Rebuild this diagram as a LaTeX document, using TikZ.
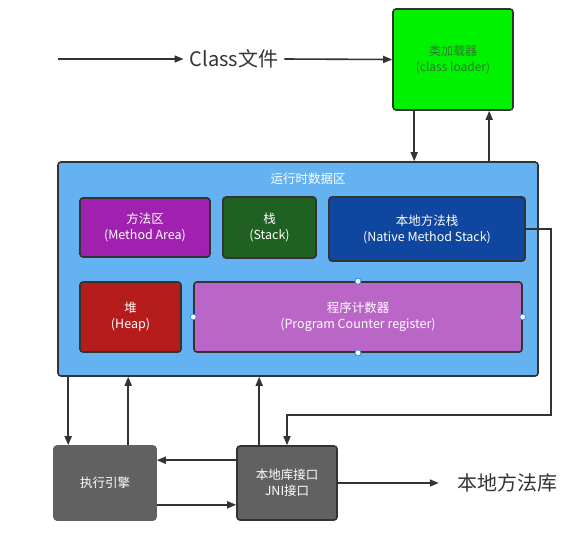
\documentclass[tikz,border=0pt]{standalone}
\usepackage{fontspec}
\setmainfont{Noto Sans CJK SC}
\usetikzlibrary{arrows.meta}
\definecolor{lc}{HTML}{333333}
\definecolor{cgreen}{HTML}{00F200}
\definecolor{cgreentxt}{HTML}{2F7A2F}
\definecolor{cblue}{HTML}{64B2F2}
\definecolor{cmethod}{HTML}{A021B0}
\definecolor{cstack}{HTML}{1E6123}
\definecolor{cnative}{HTML}{0E46A0}
\definecolor{cheap}{HTML}{B51C1C}
\definecolor{cpc}{HTML}{B966C6}
\definecolor{cgray}{HTML}{616161}
\definecolor{chandle}{HTML}{2A8CF0}
\tikzset{
  box/.style={draw=lc, line width=1.6pt, rounded corners=3pt, inner sep=0pt, align=center,
    text=white, font=\fontsize{12.5}{16}\selectfont},
  arr/.style={draw=lc, line width=1.6pt, -{Triangle[length=9pt,width=7pt]}},
  plain/.style={draw=lc, line width=1.6pt},
  handle/.style={circle, draw=chandle, fill=white, line width=0.8pt, minimum size=6pt, inner sep=0pt},
  bigtext/.style={font=\fontsize{20}{24}\selectfont, text=lc}
}
\begin{document}
\begin{tikzpicture}[x=1pt,y=-1pt]
\useasboundingbox (0,0) rectangle (585,547);
% nodes
\node[box, fill=cgreen, text=cgreentxt, minimum width=120pt, minimum height=101pt,
  font=\fontsize{12}{16.5}\selectfont] (loader) at (453,59.5) {类加载器\\(class loader)};
\node[box, fill=cblue, minimum width=480pt, minimum height=214pt] (runtime) at (298,269) {};
\node[text=white, font=\fontsize{12.5}{16}\selectfont, inner sep=0pt] (rtitle) at (308,178.5) {运行时数据区};
\node[box, fill=cmethod, minimum width=130pt, minimum height=59pt] (method) at (145,227.5) {方法区\\(Method Area)};
\node[box, fill=cstack, minimum width=93pt, minimum height=61pt] (stack) at (269.5,227.5) {栈\\(Stack)};
\node[box, fill=cnative, minimum width=196pt, minimum height=64pt] (native) at (427,229) {本地方法栈\\(Native Method Stack)};
\node[box, fill=cheap, minimum width=101pt, minimum height=70pt] (heap) at (130.5,317) {堆\\(Heap)};
\node[box, fill=cpc, minimum width=328pt, minimum height=70pt] (pc) at (358,317) {程序计数器\\(Program Counter register)};
\node[handle] (hn) at (pc.north) {};
\node[handle] (hs) at (pc.south) {};
\node[handle] (he) at (pc.east) {};
\node[handle] (hw) at (pc.west) {};
\node[box, fill=cgray, draw=cgray, minimum width=102pt, minimum height=74pt] (exec) at (105,483) {执行引擎};
\node[box, fill=cgray, minimum width=100pt, minimum height=74pt] (jni) at (287,483) {本地库接口\\JNI接口};
\node[bigtext, inner sep=6pt] (cls) at (234,59) {Class文件};
\node[bigtext, inner sep=0pt] (lib) at (507,483) {本地方法库};
\coordinate (start) at (58,59);
\coordinate (bend) at (551,415);
% connectors
\draw[arr] (start) -- (cls.west);
\draw[arr] (cls.east) -- (loader.west);
\draw[arr] ([xshift=22pt]loader.south west) -- ([xshift=22pt]loader.south west |- runtime.north);
\draw[arr] ([xshift=97pt]loader.south west |- runtime.north) -- ([xshift=97pt]loader.south west);
\draw[arr] ([xshift=11pt]runtime.south west) -- ([xshift=11pt]runtime.south west |- exec.north);
\draw[arr] ([xshift=75pt]exec.north west) -- ([xshift=75pt]exec.north west |- runtime.south);
\draw[arr] ([xshift=23pt]jni.north west) -- ([xshift=23pt]jni.north west |- runtime.south);
\draw[arr] (native.east) -| (bend) -| (jni.north);
\draw[arr] ([yshift=-15pt]jni.north west) -- ([yshift=-15pt]jni.north west -| exec.east);
\draw[arr] ([yshift=16pt]exec.south east) -- ([yshift=16pt]exec.south east -| jni.west);
\draw[arr] (jni.east) -- ([xshift=-18pt]lib.west);
\end{tikzpicture}
\end{document}
